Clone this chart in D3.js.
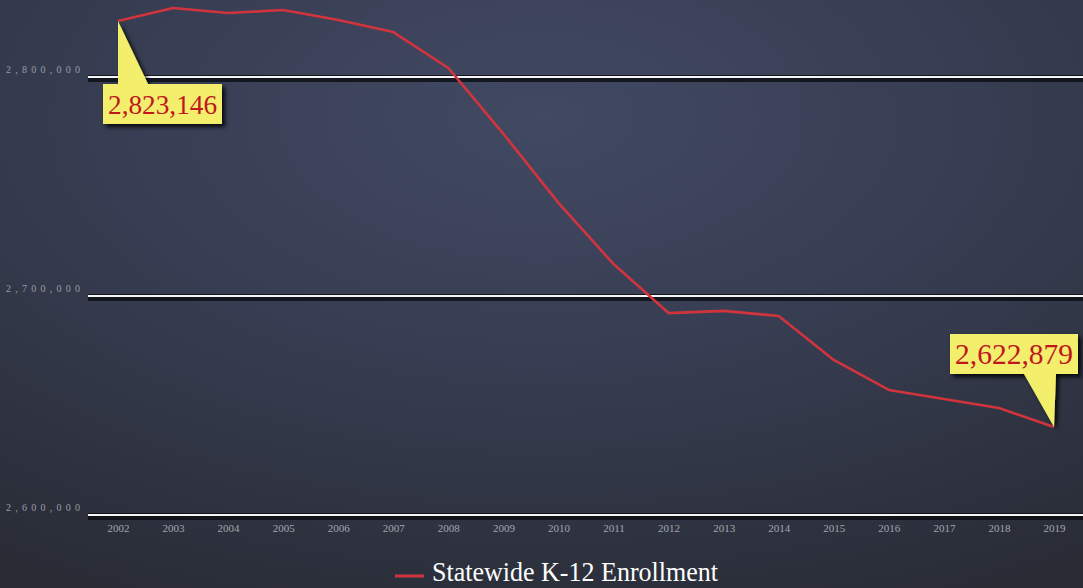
<!DOCTYPE html>
<html><head><meta charset="utf-8">
<script src="https://cdn.jsdelivr.net/npm/d3@7"></script>
<style>html,body{margin:0;padding:0;background:#2a2e3a;overflow:hidden}</style>
</head><body>
<svg id="chart" width="1083" height="588"></svg>
<script>
const years = [2002,2003,2004,2005,2006,2007,2008,2009,2010,2011,2012,2013,2014,2015,2016,2017,2018,2019];
const enrollment = [2825600,2831500,2829200,2830600,2826000,2820500,2804100,2774000,2742500,2714600,2692200,2693200,2690900,2670800,2657100,2653000,2648900,2640200];
const yTicks = [2600000,2700000,2800000];
const yTickLabels = ["2,600,000","2,700,000","2,800,000"];
const seriesName = "Statewide K-12 Enrollment";
const calloutYears = [2002,2019];
const calloutLabels = ["2,823,146","2,622,879"];

const W = 1083, H = 588;
const svg = d3.select("#chart");
const defs = svg.append("defs");
const rg = defs.append("radialGradient").attr("id","bg").attr("cx","0.5").attr("cy","0.2").attr("r","0.9");
rg.append("stop").attr("offset","0").attr("stop-color","#414963");
rg.append("stop").attr("offset","0.5").attr("stop-color","#363c50");
rg.append("stop").attr("offset","1").attr("stop-color","#292c35");
const f = defs.append("filter").attr("id","shadow").attr("x","-20%").attr("y","-20%").attr("width","150%").attr("height","150%");
f.append("feDropShadow").attr("dx",3).attr("dy",3).attr("stdDeviation",2).attr("flood-color","#000").attr("flood-opacity",0.85);
svg.append("rect").attr("width",W).attr("height",H).attr("fill","url(#bg)");

const x = d3.scalePoint().domain(years).range([118,1054]);
const y = d3.scaleLinear().domain([2600000,2800000]).range([515,77]);

// gridlines with dark shadow
const grid = svg.append("g");
grid.selectAll("rect.sh").data(yTicks).join("rect")
  .attr("x",88).attr("width",W-88).attr("y",d=>y(d)-2).attr("height",7)
  .attr("fill","#0a0c12").attr("opacity",0.8);
grid.selectAll("line").data(yTicks).join("line")
  .attr("x1",88).attr("x2",W).attr("y1",d=>y(d)).attr("y2",d=>y(d))
  .attr("stroke","#f4f4f4").attr("stroke-width",2);

// y tick labels
svg.append("g").selectAll("text").data(yTicks).join("text")
  .attr("x",6).attr("y",d=>y(d)-4)
  .attr("font-family","Liberation Serif, serif").attr("font-size",10)
  .attr("textLength",74).attr("lengthAdjust","spacing")
  .attr("fill","#9a9da8").text((d,i)=>yTickLabels[i]);

// x axis labels
const xAxis = d3.axisBottom(x).tickSize(0).tickPadding(0);
const xg = svg.append("g").attr("transform","translate(0,524)").call(xAxis);
xg.select(".domain").remove();
xg.selectAll("text").attr("font-family","Liberation Serif, serif").attr("font-size",11)
  .attr("fill","#a3a6b0").attr("dy","0.71em");

// line
const line = d3.line().x((d,i)=>x(years[i])).y(d=>y(d));
svg.append("path").datum(enrollment).attr("d",line)
  .attr("fill","none").attr("stroke","#d2343e").attr("stroke-width",2.6)
  .attr("stroke-linejoin","round");

function label(bx,by,bw,bh,fs,txt){
  svg.append("text").attr("x",bx+bw/2).attr("y",by+bh/2+fs*0.35)
    .attr("text-anchor","middle").attr("font-family","Liberation Serif, serif")
    .attr("font-size",fs).attr("fill","#c0161e")
    .attr("textLength",bw-10).attr("lengthAdjust","spacingAndGlyphs").text(txt);
}
{
  const i = years.indexOf(calloutYears[0]);
  const tx = x(years[i]), ty = y(enrollment[i]);
  const bx = tx-15, by = ty+63, bw = 119, bh = 40;
  const p = d3.path();
  p.moveTo(bx,by); p.lineTo(tx,by); p.lineTo(tx,ty); p.lineTo(tx+30,by);
  p.lineTo(bx+bw,by); p.lineTo(bx+bw,by+bh); p.lineTo(bx,by+bh); p.closePath();
  svg.append("path").attr("d",p.toString()).attr("fill","#f3ee6c").attr("filter","url(#shadow)");
  label(bx,by,bw,bh,28,calloutLabels[0]);
}
{
  const i = years.indexOf(calloutYears[1]);
  const tx = x(years[i]), ty = y(enrollment[i]);
  const bx = tx-104, by = ty-93, bw = 128, bh = 40;
  const p = d3.path();
  p.moveTo(bx,by); p.lineTo(bx+bw,by); p.lineTo(bx+bw,by+bh);
  p.lineTo(tx+2,by+bh); p.lineTo(tx,ty); p.lineTo(tx-30,by+bh);
  p.lineTo(bx,by+bh); p.closePath();
  svg.append("path").attr("d",p.toString()).attr("fill","#f3ee6c").attr("filter","url(#shadow)");
  label(bx,by,bw,bh,30,calloutLabels[1]);
}

// legend
const lg = svg.append("g");
lg.append("line").attr("x1",395).attr("x2",424).attr("y1",576).attr("y2",576)
  .attr("stroke","#d2343e").attr("stroke-width",3);
lg.append("text").attr("x",432).attr("y",581).attr("font-family","Liberation Serif, serif")
  .attr("font-size",27).attr("fill","#ffffff")
  .attr("textLength",286).attr("lengthAdjust","spacingAndGlyphs").text(seriesName);
</script>
</body></html>
